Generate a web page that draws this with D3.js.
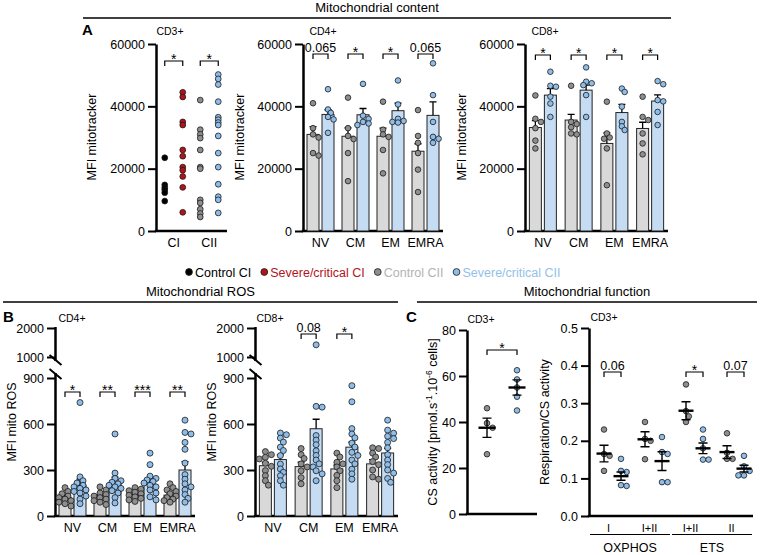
<!DOCTYPE html>
<html><head><meta charset="utf-8">
<script src="https://cdn.jsdelivr.net/npm/d3@7"></script>
<style>
body{margin:0;background:#fff}
svg{display:block}
text{font-family:Arial,"Liberation Sans",Helvetica,sans-serif}
</style>
</head><body>
<svg id="chart" width="764" height="555"></svg>
<script>
// ================= DATA =================
// Panel A – CD3+ (single dots, MFI mitotracker)
const cd3Groups = ["CI", "CII"];
const cd3ControlCI  = [23500, 14800, 13900, 13200, 12300, 9600];
const cd3SevereCI   = [44500, 43000, 35000, 34000, 26000, 24000, 20500, 19500, 17500, 14000, 6000];
const cd3ControlCII = [42000, 32500, 31000, 29800, 26000, 20500, 20000, 10000, 9000, 7000, 5600, 4500];
const cd3SevereCII  = [50200, 48800, 47000, 41500, 36500, 35700, 34800, 34000, 30500, 25000, 20500, 15000, 11000, 10000, 5800];
const cd3Sig = ["*", "*"];
const mitoTicks = [0, 20000, 40000, 60000];

// Panel A – CD4+ / CD8+ subsets
const subsets = ["NV", "CM", "EM", "EMRA"];
const cd4CtrlMean = [31000, 30400, 30400, 25600];
const cd4CtrlSem  = [2500, 2700, 2600, 2400];
const cd4SevMean  = [37400, 37300, 38600, 37100];
const cd4SevSem   = [1500, 2000, 2400, 4300];
const cd4CtrlDots = [[41000,33000,31000,30000,25000,24200],[42800,33000,30500,29500,25000,16000],[41500,32500,31000,30200,26000,18500],[38800,30500,28300,25000,19700,12500]];
const cd4SevDots  = [[45500,39000,37900,36600,35800,31500],[47200,37000,36000,35000,34500,34000],[48300,40600,36000,35300,35000,34800],[53800,43600,35000,30200,29600,28300]];
const cd4Sig = ["0.065", "*", "*", "0.065"];

const cd8CtrlMean = [33200, 35600, 28100, 32900];
const cd8CtrlSem  = [2200, 1800, 3400, 2000];
const cd8SevMean  = [43600, 45200, 38000, 41700];
const cd8SevSem   = [2100, 1600, 2600, 2000];
const cd8CtrlDots = [[43500,36000,35000,33000,29000,26500],[46600,35000,34300,33300,31300,31000],[41500,31300,30000,29600,26500,14700],[43100,36600,35600,31300,28100,24600]];
const cd8SevDots  = [[51100,46600,46300,43100,40900,36600],[52500,47900,47400,46800,43600,36600],[45700,44600,39900,35000,33600,32400],[48100,47100,42000,41600,38200,34000]];
const cd8Sig = ["*", "*", "*", "*"];

const legendLabels = ["Control CI", "Severe/critical CI", "Control CII", "Severe/critical CII"];

// Panel B – mitochondrial ROS
const rosLowTicks = [0, 300, 600, 900];
const rosHighTicks = [1000, 2000];
const rosCd4CtrlMean = [120, 123, 131, 136];
const rosCd4CtrlSem  = [12, 12, 10, 13];
const rosCd4SevMean  = [200, 208, 206, 300];
const rosCd4SevSem   = [40, 45, 35, 55];
const rosCd4CtrlDots = [[185,160,145,130,120,110,100,90,80,65],[190,170,150,140,130,120,110,100,90,75],[185,175,165,155,145,135,125,115,105,95],[210,185,170,160,145,130,120,110,100,90]];
const rosCd4SevDots  = [[740,255,230,215,200,190,180,170,160,150,130,110,80],[535,280,245,230,220,210,200,190,180,165,150,120,85],[410,335,260,245,235,225,215,200,190,170,150,125,105],[625,545,535,480,435,345,270,240,210,190,170,140,115,90]];
const rosCd4Sig = ["*", "**", "***", "**"];

const rosCd8CtrlMean = [328, 322, 307, 340];
const rosCd8CtrlSem  = [22, 30, 25, 28];
const rosCd8SevMean  = [368, 569, 449, 411];
const rosCd8SevSem   = [30, 62, 33, 30];
const rosCd8CtrlDots = [[420,400,383,372,344,324,296,263,230,201],[440,400,375,340,320,295,250,210],[410,385,350,340,320,295,265,230,185],[445,440,410,385,355,335,300,255,240]];
const rosCd8SevDots  = [[541,530,508,482,449,427,394,339,307,285,263,230,201],[1420,715,710,525,495,465,425,395,365,340,320,295,275,230],[850,745,570,535,510,475,450,415,395,365,340,305,275,240],[625,560,540,520,505,480,445,400,365,335,300,280,245,220]];
const rosCd8Sig = ["", "0.08", "*", ""];

// Panel C – CS activity
const csTicks = [0, 20, 40, 60, 80];
const csCtrl = [46, 39.5, 37.5, 26];
const csSev  = [62.5, 58.5, 55, 51, 45];
const csCtrlMean = 37.5, csCtrlSem = 4.2;
const csSevMean = 55, csSevSem = 3.3;
const csSig = "*";

// Panel C – Respiration / CS activity
const respCats = ["I", "I+II", "I+II", "II"];
const respGroups = ["OXPHOS", "OXPHOS", "ETS", "ETS"];
const respTicks = [0, 0.1, 0.2, 0.3, 0.4, 0.5];
const respCtrlDots = [[0.23,0.165,0.16,0.12],[0.25,0.205,0.2,0.151],[0.35,0.279,0.265,0.25],[0.22,0.168,0.152,0.152]];
const respSevDots  = [[0.152,0.12,0.117,0.082,0.08],[0.21,0.17,0.165,0.09,0.09],[0.23,0.205,0.18,0.15,0.15],[0.16,0.132,0.12,0.108,0.108]];
const respCtrlMean = [0.166, 0.204, 0.28, 0.17];
const respCtrlSem  = [0.022, 0.02, 0.024, 0.017];
const respSevMean  = [0.106, 0.146, 0.18, 0.126];
const respSevSem   = [0.011, 0.025, 0.014, 0.009];
const respSig = ["0.06", "", "*", "0.07"];

// ================= DRAWING =================
const svg = d3.select("#chart");
const COL = {black:"#000", red:"#b3141c", gray:"#8e8e8e", blue:"#8fbde9",
  barGray:"#d9d9d9", barBlue:"#c5dcf3", legGray:"#b3b3b3", legBlue:"#92bfea"};

function txt(g, x, y, s, o = {}) {
  return g.append("text").attr("x", x).attr("y", y).text(s)
    .attr("font-size", o.size || 12).attr("text-anchor", o.anchor || "middle")
    .attr("font-weight", o.weight || "normal").attr("fill", o.fill || "#000");
}
function yLabel(x, y, s, size = 12.5) {
  return svg.append("text").attr("transform", `translate(${x},${y}) rotate(-90)`)
    .attr("text-anchor", "middle").attr("font-size", size).text(s);
}
function drawYAxis(x, scale, ticks, fmt, domain = true) {
  const g = svg.append("g").attr("transform", `translate(${x},0)`);
  g.call(d3.axisLeft(scale).tickValues(ticks).tickFormat(fmt).tickSize(8).tickPadding(3).tickSizeOuter(0));
  g.attr("font-family", null).attr("font-size", null);
  g.select(".domain").attr("stroke-width", 2.5).attr("stroke", "#000");
  if (!domain) g.select(".domain").remove();
  g.selectAll(".tick line").attr("stroke-width", 2).attr("stroke", "#000");
  g.selectAll(".tick text").attr("font-size", 12.5).attr("fill", "#000");
  return g;
}
function xAxisLine(x0, x1, y) {
  svg.append("line").attr("x1", x0 - 1.2).attr("x2", x1).attr("y1", y).attr("y2", y)
    .attr("stroke", "#000").attr("stroke-width", 2.5);
}
function bracket(x1, x2, y, label) {
  if (!label) return;
  svg.append("path").attr("d", `M${x1},${y + 5}V${y}H${x2}V${y + 5}`)
    .attr("fill", "none").attr("stroke", "#000").attr("stroke-width", 1.2);
  const star = label.startsWith("*");
  txt(svg, (x1 + x2) / 2, star ? y + 3 : y - 2, label, {size: star ? 14 : 12.5});
}
// compact beeswarm: offsets limited to about one bar width
function swarm(vals, y, r, kmax = 3, step = 0.85, minD = 1.5) {
  const pts = vals.map(v => ({v, py: y(v), dx: 0}));
  const placed = [];
  pts.slice().sort((a, b) => a.py - b.py).forEach(p => {
    const cands = [0];
    for (let k = 1; k <= kmax; k++) cands.push(k * r * step, -k * r * step);
    let best = null, bestD = -1;
    for (const c of cands) {
      const d = placed.length ? d3.min(placed, q => Math.hypot(q.dx - c, q.py - p.py)) : Infinity;
      if (d >= minD * r) { best = c; break; }
      if (d > bestD) { bestD = d; best = c; }
    }
    p.dx = best; placed.push(p);
  });
  return pts;
}
function dot(x, y, r, fill) {
  svg.append("circle").attr("cx", x).attr("cy", y).attr("r", r)
    .attr("fill", fill).attr("stroke", "#1a1a1a").attr("stroke-width", 0.8);
}

// ---------- Headers ----------
function header(x0, x1, yLine, title) {
  svg.append("line").attr("x1", x0).attr("x2", x1).attr("y1", yLine).attr("y2", yLine)
    .attr("stroke", "#000").attr("stroke-width", 1.6);
  txt(svg, (x0 + x1) / 2, yLine - 6, title, {size: 13});
}
header(83, 671, 18, "Mitochondrial content");
header(3, 398, 302, "Mitochondrial ROS");
header(417, 757, 302, "Mitochondrial function");

txt(svg, 82, 35, "A", {size: 15, weight: "bold", anchor: "start"});
txt(svg, 3, 322, "B", {size: 15, weight: "bold", anchor: "start"});
txt(svg, 406, 322, "C", {size: 15, weight: "bold", anchor: "start"});

// ---------- Panel A: CD3+ ----------
const yMito = d3.scaleLinear().domain([0, 60000]).range([231, 44]);
{
  const ax = 156, xEnd = 227;
  drawYAxis(ax, yMito, mitoTicks, d3.format("d"));
  xAxisLine(ax, xEnd, 231);
  yLabel(96, 137, "MFI mitotracker");
  txt(svg, 170, 35, "CD3+", {size: 10.5});
  const xb = d3.scaleBand().domain(cd3Groups).range([ax, xEnd]);
  const off = d3.scalePoint().domain(["ctrl", "sev"]).range([-9, 9]);
  const sets = [[cd3ControlCI, cd3SevereCI, COL.black, COL.red], [cd3ControlCII, cd3SevereCII, COL.gray, COL.blue]];
  cd3Groups.forEach((g, i) => {
    const cx = xb(g) + xb.bandwidth() / 2;
    sets[i][0].forEach(v => dot(cx + off("ctrl"), yMito(v), 2.9, sets[i][2]));
    sets[i][1].forEach(v => dot(cx + off("sev"), yMito(v), 2.9, sets[i][3]));
    bracket(cx + off("ctrl"), cx + off("sev"), 61, cd3Sig[i]);
    txt(svg, cx, 246.5, g, {size: 12.5});
  });
}

// ---------- Generic bar panel ----------
function barPanel(p) {
  drawYAxis(p.ax, p.yAxisScale, p.ticks, p.fmt, p.domain !== false);
  xAxisLine(p.ax, p.xEnd, p.y0);
  const xb = d3.scaleBand().domain(p.cats).range([p.ax, p.xEnd]);
  const off = d3.scalePoint().domain(["ctrl", "sev"]).range([-7.5, 7.5]);
  const bw = 12;
  const items = [];
  p.cats.forEach((c, i) => {
    const cx = xb(c) + xb.bandwidth() / 2;
    items.push({x: cx + off("ctrl"), m: p.ctrlMean[i], s: p.ctrlSem[i], d: p.ctrlDots[i], bf: COL.barGray, df: COL.gray});
    items.push({x: cx + off("sev"), m: p.sevMean[i], s: p.sevSem[i], d: p.sevDots[i], bf: COL.barBlue, df: COL.blue});
    txt(svg, cx, p.y0 + 16, c, {size: 12.5});
  });
  items.forEach(it => {
    svg.append("rect").attr("x", it.x - bw / 2).attr("y", p.yBar(it.m)).attr("width", bw)
      .attr("height", p.yBar(0) - p.yBar(it.m)).attr("fill", it.bf).attr("stroke", "#222").attr("stroke-width", 1);
  });
  items.forEach(it => {
    const yt = p.yBar(it.m + it.s);
    svg.append("path").attr("d", `M${it.x},${p.yBar(it.m)}V${yt}M${it.x - 3.5},${yt}H${it.x + 3.5}`)
      .attr("stroke", "#000").attr("stroke-width", 1.3).attr("fill", "none");
  });
  items.forEach(it => {
    swarm(it.d, p.yDot, p.r, 2, 1.0, 1.5).forEach(d => dot(it.x + d.dx, d.py, p.r, it.df));
  });
  p.cats.forEach((c, i) => {
    const cx = xb(c) + xb.bandwidth() / 2;
    bracket(cx + off("ctrl"), cx + off("sev"), p.sigY, p.sig[i]);
  });
}

// CD4+
barPanel({ax: 303, xEnd: 443, y0: 231, yAxisScale: yMito, ticks: mitoTicks, fmt: d3.format("d"),
  yBar: yMito, yDot: yMito, r: 2.8, cats: subsets,
  ctrlMean: cd4CtrlMean, ctrlSem: cd4CtrlSem, sevMean: cd4SevMean, sevSem: cd4SevSem,
  ctrlDots: cd4CtrlDots, sevDots: cd4SevDots, sig: cd4Sig, sigY: 54});
yLabel(244, 137, "MFI mitotracker");
txt(svg, 323, 35, "CD4+", {size: 10.5});

// CD8+
barPanel({ax: 525, xEnd: 668, y0: 231, yAxisScale: yMito, ticks: mitoTicks, fmt: d3.format("d"),
  yBar: yMito, yDot: yMito, r: 2.8, cats: subsets,
  ctrlMean: cd8CtrlMean, ctrlSem: cd8CtrlSem, sevMean: cd8SevMean, sevSem: cd8SevSem,
  ctrlDots: cd8CtrlDots, sevDots: cd8SevDots, sig: cd8Sig, sigY: 55});
yLabel(466, 137, "MFI mitotracker");
txt(svg, 545, 35, "CD8+", {size: 10.5});

// Legend
{
  const fills = [COL.black, COL.red, COL.gray, COL.blue];
  const tcol = [COL.black, COL.red, COL.legGray, COL.legBlue];
  let x = 189;
  legendLabels.forEach((l, i) => {
    dot(x, 272, 3.4, fills[i]);
    const t = txt(svg, x + 6, 276.5, l, {size: 12.5, anchor: "start", fill: tcol[i]});
    x += 6 + t.node().getComputedTextLength() + 13;
  });
}

// ---------- Panel B: broken axis ----------
const yRosLow = d3.scaleLinear().domain([0, 900]).range([516, 378]);
const yRosHigh = d3.scaleLinear().domain([1000, 2000]).range([357, 328]);
const yRos = v => v > 950 ? yRosHigh(v) : yRosLow(v);

function brokenAxis(ax) {
  drawYAxis(ax, yRosLow, rosLowTicks, d3.format("d"), false);
  drawYAxis(ax, yRosHigh, rosHighTicks, d3.format("d"), false);
  const xl = ax + 0.5;
  svg.append("line").attr("x1", xl).attr("x2", xl).attr("y1", yRosHigh(2000) - 1).attr("y2", yRosHigh(1000) + 4)
    .attr("stroke", "#000").attr("stroke-width", 2.5);
  svg.append("line").attr("x1", xl).attr("x2", xl).attr("y1", yRosLow(900) - 5).attr("y2", yRosLow(0))
    .attr("stroke", "#000").attr("stroke-width", 2.5);
  [yRosHigh(1000) + 3, yRosLow(900) - 4].forEach(yc => {
    svg.append("line").attr("x1", xl - 6).attr("x2", xl + 6).attr("y1", yc - 5).attr("y2", yc + 5)
      .attr("stroke", "#000").attr("stroke-width", 2);
  });
}

brokenAxis(55);
barPanel({ax: 55, xEnd: 195, y0: 516, yAxisScale: yRosLow, ticks: [], fmt: d3.format("d"), domain: false,
  yBar: yRosLow, yDot: yRos, r: 3, cats: subsets,
  ctrlMean: rosCd4CtrlMean, ctrlSem: rosCd4CtrlSem, sevMean: rosCd4SevMean, sevSem: rosCd4SevSem,
  ctrlDots: rosCd4CtrlDots, sevDots: rosCd4SevDots, sig: rosCd4Sig, sigY: 392});
yLabel(16, 422, "MFI mito ROS");
txt(svg, 72, 322, "CD4+", {size: 10.5});

brokenAxis(255);
barPanel({ax: 255, xEnd: 398, y0: 516, yAxisScale: yRosLow, ticks: [], fmt: d3.format("d"), domain: false,
  yBar: yRosLow, yDot: yRos, r: 3, cats: subsets,
  ctrlMean: rosCd8CtrlMean, ctrlSem: rosCd8CtrlSem, sevMean: rosCd8SevMean, sevSem: rosCd8SevSem,
  ctrlDots: rosCd8CtrlDots, sevDots: rosCd8SevDots, sig: rosCd8Sig, sigY: 334});
yLabel(216, 422, "MFI mito ROS");
txt(svg, 270, 322, "CD8+", {size: 10.5});

// ---------- Panel C: scatter with mean ± SEM ----------
function meanErr(x, m, s, y, w) {
  svg.append("path").attr("d", `M${x},${y(m - s)}V${y(m + s)}M${x - 4.5},${y(m - s)}H${x + 4.5}M${x - 4.5},${y(m + s)}H${x + 4.5}`)
    .attr("stroke", "#000").attr("stroke-width", 1.4).attr("fill", "none");
  svg.append("line").attr("x1", x - w / 2).attr("x2", x + w / 2).attr("y1", y(m)).attr("y2", y(m))
    .attr("stroke", "#000").attr("stroke-width", 2.4);
}
{
  const yCs = d3.scaleLinear().domain([0, 80]).range([514, 330]);
  const ax = 467, xEnd = 537;
  drawYAxis(ax, yCs, csTicks, d3.format("d"));
  xAxisLine(ax, xEnd, 514);
  const xb = d3.scaleBand().domain(["CD3+"]).range([ax, xEnd]);
  const off = d3.scalePoint().domain(["ctrl", "sev"]).range([-15, 15]);
  const cx = xb("CD3+") + xb.bandwidth() / 2;
  swarm(csCtrl, yCs, 2.8, 3, 1.0, 2).forEach(d => dot(cx + off("ctrl") + d.dx, d.py, 2.8, COL.gray));
  swarm(csSev, yCs, 2.8, 3, 1.0, 2).forEach(d => dot(cx + off("sev") + d.dx, d.py, 2.8, COL.blue));
  meanErr(cx + off("ctrl"), csCtrlMean, csCtrlSem, yCs, 17);
  meanErr(cx + off("sev"), csSevMean, csSevSem, yCs, 17);
  bracket(cx + off("ctrl"), cx + off("sev"), 350, csSig);
  txt(svg, 481, 323, "CD3+", {size: 10.5});
  const t = svg.append("text").attr("transform", `translate(437,422) rotate(-90)`)
    .attr("text-anchor", "middle").attr("font-size", 12.5);
  t.append("tspan").text("CS activity [pmol.s");
  t.append("tspan").attr("dy", -5).attr("font-size", 8.5).text("-1");
  t.append("tspan").attr("dy", 5).text(".10");
  t.append("tspan").attr("dy", -5).attr("font-size", 8.5).text("-6");
  t.append("tspan").attr("dy", 5).text(" cells]");
}
{
  const yR = d3.scaleLinear().domain([0, 0.5]).range([516, 328]);
  const ax = 589, xEnd = 753;
  drawYAxis(ax, yR, respTicks, d3.format(".1f"));
  xAxisLine(ax, xEnd, 516);
  const idx = respCats.map((c, i) => i);
  const xb = d3.scaleBand().domain(idx).range([592, 756]);
  const off = d3.scalePoint().domain(["ctrl", "sev"]).range([-8.5, 8.5]);
  idx.forEach(i => {
    const cx = xb(i) + xb.bandwidth() / 2;
    swarm(respCtrlDots[i], yR, 2.8, 3, 1.0, 2).forEach(d => dot(cx + off("ctrl") + d.dx, d.py, 2.8, COL.gray));
    swarm(respSevDots[i], yR, 2.8, 3, 1.0, 2).forEach(d => dot(cx + off("sev") + d.dx, d.py, 2.8, COL.blue));
    meanErr(cx + off("ctrl"), respCtrlMean[i], respCtrlSem[i], yR, 15);
    meanErr(cx + off("sev"), respSevMean[i], respSevSem[i], yR, 15);
    bracket(cx + off("ctrl"), cx + off("sev"), 372, respSig[i]);
    txt(svg, cx - 4, 531.5, respCats[i], {size: 11});
  });
  // group underlines
  const groups = Array.from(new Set(respGroups));
  groups.forEach(g => {
    const members = idx.filter(i => respGroups[i] === g);
    const x0 = xb(members[0]) - 2, x1 = xb(members[members.length - 1]) + xb.bandwidth() - 4;
    svg.append("line").attr("x1", x0).attr("x2", x1).attr("y1", 534.5).attr("y2", 534.5)
      .attr("stroke", "#000").attr("stroke-width", 1.2);
    txt(svg, (x0 + x1) / 2, 551.5, g, {size: 12.5});
  });
  txt(svg, 604, 321, "CD3+", {size: 10.5});
  yLabel(549, 422, "Respiration/CS activity");
}
</script>
</body></html>
